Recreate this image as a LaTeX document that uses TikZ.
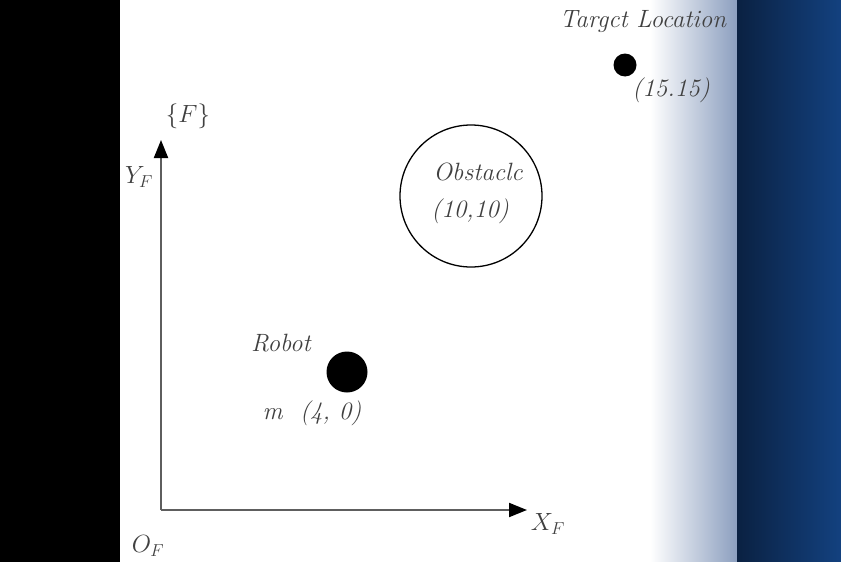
\documentclass[tikz,border=0pt]{standalone}
\usepackage{xcolor}
\usepackage{tikz}
\usetikzlibrary{arrows.meta}
\definecolor{txt}{HTML}{404040}
\definecolor{axisgray}{HTML}{5E5E5E}
\definecolor{steel}{HTML}{8C9FBF}
\definecolor{navy}{HTML}{0A2142}
\definecolor{navylt}{HTML}{13417F}

\begin{document}
\begin{tikzpicture}[x=1pt, y=-1pt, line join=round,
  lbl/.style={text=txt, font=\fontsize{25}{29}\selectfont\itshape, inner sep=0pt},
  axisarrow/.style={axisgray, line width=2pt, -{Triangle[length=18pt,width=14pt,color=black]}}]
  % background bands
  \useasboundingbox (0,0) rectangle (841,562);
  \fill[black] (0,0) rectangle (120,562);
  \fill[white] (120,0) rectangle (650,562);
  \shade[left color=white, right color=steel] (650,0) rectangle (737,562);
  \shade[left color=navy, right color=navylt] (737,0) rectangle (841,562);
  % frame {F}
  \coordinate (O) at (161,510);
  \coordinate (X) at (527,510);
  \coordinate (Y) at (161,140);
  \draw[axisarrow] (O) -- (X);
  \draw[axisarrow] (O) -- (Y);
  \node[lbl] (frame) at (188,116) {$\{F\}$};
  \node[lbl] (ylab) at (139,177) {$Y_F$};
  \node[lbl] (xlab) at (548,524) {$X_F$};
  \node[lbl] (olab) at (148,546) {$O_F$};
  % obstacle
  \node[circle, draw, line width=1.3pt, minimum size=142pt, inner sep=0pt] (obs) at (471,196) {};
  \node[lbl] (obsname) at (478,172) {Obstaclc};
  \node[lbl] (obspos) at (470,211) {(10,10)};
  % robot
  \node[circle, fill=black, minimum size=41pt, inner sep=0pt] (robot) at (347,372) {};
  \node[lbl] (robotname) at (281,343) {Robot};
  \node[lbl] (robotpos) at (312,413) {m\ \ (4, 0)};
  % target
  \node[circle, fill=black, minimum size=23pt, inner sep=0pt] (target) at (625,65) {};
  \node[lbl] (targetname) at (643,22) {Targct Location};
  \node[lbl] (targetpos) at (671,90) {(15.15)};
\end{tikzpicture}
\end{document}
